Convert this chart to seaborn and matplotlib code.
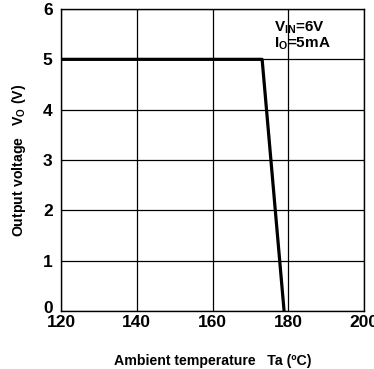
import matplotlib
matplotlib.use("Agg")
import matplotlib.pyplot as plt
import matplotlib.transforms as mtransforms
import seaborn as sns
import pandas as pd

temperature = [120, 173.1, 178.9]
voltage = [5.0, 5.0, 0.0]
x_ticks = [120, 140, 160, 180, 200]
y_ticks = [0, 1, 2, 3, 4, 5, 6]

sns.set_theme(style="white")
plt.rcParams['font.family'] = ['Liberation Sans', 'DejaVu Sans']
plt.rcParams['mathtext.default'] = 'regular'

fig = plt.figure(figsize=(3.74, 3.69), dpi=100)
ax = fig.add_axes([61/374, 1 - 311/369, 303/374, 302/369])

df = pd.DataFrame({"Ta": temperature, "Vo": voltage})
sns.lineplot(data=df, x="Ta", y="Vo", ax=ax, color="black", linewidth=2.3, sort=False)

ax.set_xlim(120, 200)
ax.set_ylim(0, 6)
ax.set_xticks(x_ticks)
ax.set_yticks(y_ticks)
ax.grid(True, color="black", linewidth=0.9)
for s in ax.spines.values():
    s.set_color("black")
    s.set_linewidth(1.0)
ax.tick_params(axis="both", length=0, labelsize=12.5, colors="black")
ax.tick_params(axis="x", pad=3)
ax.tick_params(axis="y", pad=6)
for lab in ax.get_xticklabels() + ax.get_yticklabels():
    lab.set_fontweight("bold")

# nudge the "0" label upward as in the reference
zero_tick = ax.yaxis.get_major_ticks()[0]
zero_tick.label1.set_transform(zero_tick.label1.get_transform() +
                               mtransforms.ScaledTranslation(0, 4/100, fig.dpi_scale_trans))

ax.set_xlabel("Ambient temperature   Ta (ºC)", fontsize=10.2, fontweight="bold", labelpad=17, color="black")
ax.set_ylabel("Output voltage   V$_{O}$ (V)", fontsize=10.2, fontweight="bold", labelpad=11, color="black")

ax.text(0.703, 0.965, "V$_{IN}$=6V\nI$_{O}$=5mA", transform=ax.transAxes, fontsize=11,
        fontweight="bold", va="top", ha="left", linespacing=1.0, color="black")

fig.savefig("out.png", dpi=100)
